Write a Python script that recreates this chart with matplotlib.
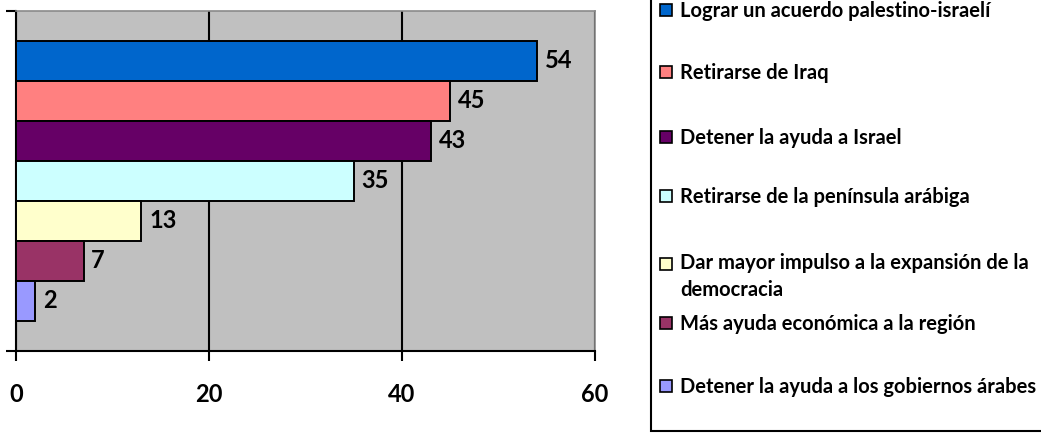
import matplotlib
matplotlib.use("Agg")
import matplotlib.pyplot as plt
from matplotlib.patches import Rectangle

categories = [
    "Lograr un acuerdo palestino-israelí",
    "Retirarse de Iraq",
    "Detener la ayuda a Israel",
    "Retirarse de la península arábiga",
    "Dar mayor impulso a la expansión de la\ndemocracia",
    "Más ayuda económica a la región",
    "Detener la ayuda a los gobiernos árabes",
]
values = [54, 45, 43, 35, 13, 7, 2]
colors = ["#0066CC", "#FF8080", "#660066", "#CCFFFF", "#FFFFCC", "#993366", "#9999FF"]
xticks = [0, 20, 40, 60]

FONT = ["Lato", "DejaVu Sans"]
plt.rcParams["font.family"] = FONT

W, H = 1041, 433
fig = plt.figure(figsize=(W / 100, H / 100), dpi=100)

# main plot area (pixels: left 16, top 11, right 595, bottom 351)
ax = fig.add_axes([16 / W, (H - 351) / H, (595 - 16) / W, (351 - 11) / H])
ax.set_facecolor("#C0C0C0")
pos = list(range(len(values)))
ax.barh(pos, values, height=1.0, color=colors, edgecolor="black", linewidth=1.4, zorder=3)
for p, v in zip(pos, values):
    ax.annotate(str(v), (v, p), xytext=(5.5, 0), textcoords="offset points",
                ha="left", va="center", fontsize=17, fontweight="bold", zorder=4)
ax.set_xlim(0, 60)
ax.set_ylim(len(values) - 0.5 + 0.75, -0.5 - 0.75)
ax.set_xticks(xticks)
ax.set_xticklabels([str(t) for t in xticks], fontsize=17, fontweight="bold")
ax.set_yticks([-0.5 - 0.75, len(values) - 0.5 + 0.75])
ax.set_yticklabels([])
ax.tick_params(axis="x", direction="out", length=7, width=1.5, pad=16)
ax.tick_params(axis="y", direction="out", length=7, width=1.5)
ax.grid(axis="x", color="black", linewidth=1.5, zorder=1)
for s in ["left", "bottom"]:
    ax.spines[s].set_color("black")
    ax.spines[s].set_linewidth(1.5)
for s in ["top", "right"]:
    ax.spines[s].set_color("#8a8a8a")
    ax.spines[s].set_linewidth(1.2)

# legend drawn in a pixel-coordinate overlay
lax = fig.add_axes([0, 0, 1, 1])
lax.set_xlim(0, W)
lax.set_ylim(H, 0)
lax.axis("off")
lax.add_patch(Rectangle((651, -10), 500, 441, facecolor="white", edgecolor="black",
                        linewidth=1.5, zorder=1))
centers = [10, 72, 137, 196, 264, 323, 386]
for c, col, lab in zip(centers, colors, categories):
    lax.add_patch(Rectangle((660, c - 6), 12, 12, facecolor=col, edgecolor="black",
                            linewidth=1.2, zorder=2))
    if "\n" in lab:
        lax.text(680, c - 11, lab, ha="left", va="top",
                 fontsize=14.5, fontweight="bold", linespacing=1.45, zorder=3)
    else:
        lax.text(680, c + 1, lab, ha="left", va="center",
                 fontsize=14.5, fontweight="bold", zorder=3)

fig.savefig("out.png", dpi=100)
